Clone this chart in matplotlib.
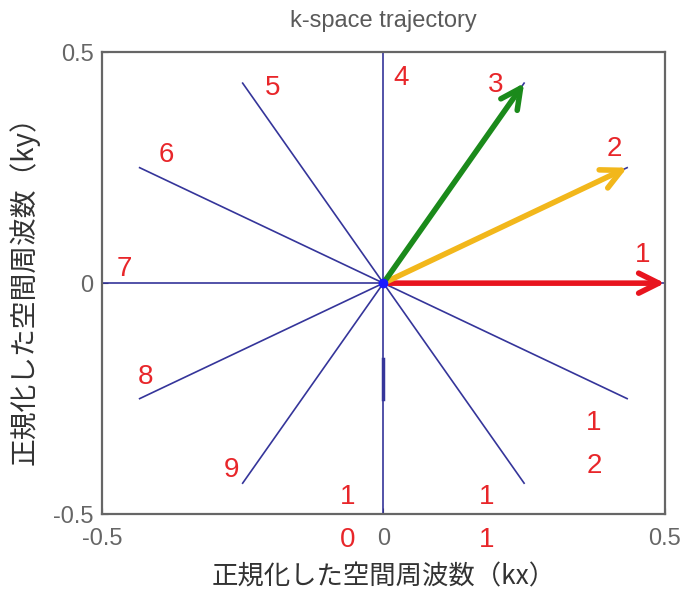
import numpy as np
import matplotlib.pyplot as plt

plt.rcParams['font.family'] = ['Liberation Sans', 'DejaVu Sans']

# radial k-space spokes: angle in degrees, length in normalized k
spoke_angles = [0, 30, 60, 90, 120, 150, 180, 210, 240, 270, 300, 330]
spoke_length = 0.5
spoke_labels = ['1', '2', '3', '4', '5', '6', '7', '8', '9', '1\n0', '1\n1', '1\n2']
label_pos = [(0.46, 0.06), (0.41, 0.29), (0.20, 0.43), (0.032, 0.445),
             (-0.196, 0.422), (-0.386, 0.277), (-0.461, 0.03), (-0.422, -0.203),
             (-0.27, -0.405), (-0.064, -0.51), (0.183, -0.51), (0.374, -0.35)]

# the first three spokes are highlighted as arrows
arrow_spokes = [0, 1, 2]
arrow_colors = ['#e8141e', '#f2b71b', '#1b8a1b']

fig = plt.figure(figsize=(6.84, 5.93), dpi=100)
ax = fig.add_axes([0.149, 0.133, 0.823, 0.779])

line_col = '#35359a'
for a in spoke_angles:
    t = np.deg2rad(a)
    ax.plot([0, spoke_length * np.cos(t)], [0, spoke_length * np.sin(t)],
            color=line_col, lw=1.2, zorder=2)

# short heavier stretch on the lower vertical spoke
ax.plot([0, 0], [-0.165, -0.25], color=line_col, lw=2.5, zorder=2)

for i, c in zip(arrow_spokes, arrow_colors):
    t = np.deg2rad(spoke_angles[i])
    ax.annotate('', xy=(spoke_length * np.cos(t), spoke_length * np.sin(t)),
                xytext=(0, 0),
                arrowprops=dict(arrowstyle='->', color=c, lw=4,
                                mutation_scale=36, shrinkA=0, shrinkB=0),
                zorder=4)

ax.plot(0, 0, 'o', color='#1a1aff', ms=6, zorder=5)

for lab, (x, y) in zip(spoke_labels, label_pos):
    ax.text(x, y, lab, color='#e8262a', fontsize=20, ha='center', va='center',
            linespacing=1.85, clip_on=False, zorder=6)

ax.set_xlim(-0.5, 0.5)
ax.set_ylim(-0.5, 0.5)
ax.set_xticks([-0.5, 0, 0.5])
ax.set_yticks([-0.5, 0, 0.5])
ax.set_xticklabels(['-0.5', '0', '0.5'])
ax.set_yticklabels(['-0.5', '0', '0.5'])
ax.tick_params(direction='in', length=4, colors='#333333', labelcolor='#666666',
               labelsize=17)
ax.tick_params(axis='x', pad=10)
ax.tick_params(axis='y', pad=6)
for s in ax.spines.values():
    s.set_color('#666666')
    s.set_linewidth(1.6)

cjk = ['Noto Sans CJK JP', 'DejaVu Sans']
ax.set_title('k-space trajectory', fontsize=17, color='#5a5a5a', pad=18)
ax.set_xlabel('正規化した空間周波数（kx）', fontsize=19, color='#333333',
              family=cjk, labelpad=10)
ax.set_ylabel('正規化した空間周波数（ky）', fontsize=20, color='#333333',
              family=cjk, labelpad=10)

fig.savefig('out.png', dpi=100)
